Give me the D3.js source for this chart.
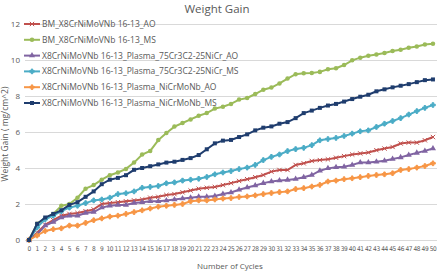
<!DOCTYPE html>
<html>
<head>
<meta charset="utf-8">
<script src="https://cdn.jsdelivr.net/npm/d3@7"></script>
<style>
  body { margin: 0; background: #fff; }
  text { font-family: "Open Sans", sans-serif; fill: #595959; }
</style>
</head>
<body>
<div id="viz"></div>
<script>
var cycles = d3.range(0, 51);
var yTicks = [0, 2, 4, 6, 8, 10, 12];

var names = [
  "BM_X8CrNiMoVNb 16-13_AO",
  "BM_X8CrNiMoVNb 16-13_MS",
  "X8CrNiMoVNb 16-13_Plasma_75Cr3C2-25NiCr_AO",
  "X8CrNiMoVNb 16-13_Plasma_75Cr3C2-25NiCr_MS",
  "X8CrNiMoVNb 16-13_Plasma_NiCrMoNb_AO",
  "X8CrNiMoVNb 16-13_Plasma_NiCrMoNb_MS"
];
var colors = ["#c0504d", "#9bbb59", "#8064a2", "#4bacc6", "#f79646", "#1f3d6e"];

var bmAO = [0, 0.4, 0.85, 1.1, 1.35, 1.45, 1.5, 1.6, 1.7, 2.0, 2.05, 2.1, 2.15, 2.2, 2.25, 2.35, 2.4, 2.5, 2.55, 2.65, 2.75, 2.85, 2.9, 2.95, 3.05,
  3.16, 3.28, 3.38, 3.49, 3.61, 3.8, 3.89, 3.89, 4.17, 4.26, 4.39, 4.44, 4.48, 4.57, 4.66, 4.75, 4.81, 4.86, 4.99, 5.08, 5.17, 5.36, 5.41, 5.41, 5.54, 5.72];
var bmMS = [0, 0.9, 1.2, 1.45, 1.9, 2.0, 2.35, 2.85, 3.05, 3.35, 3.6, 3.75, 3.95, 4.3, 4.75, 4.95, 5.55, 5.95, 6.3, 6.5, 6.7, 6.9, 7.05, 7.3, 7.4,
  7.56, 7.8, 7.89, 8.11, 8.35, 8.47, 8.7, 8.97, 9.21, 9.27, 9.28, 9.34, 9.49, 9.54, 9.72, 9.98, 10.13, 10.24, 10.31, 10.39, 10.5, 10.57, 10.68, 10.75, 10.86, 10.9];
var crAO = [0, 0.3, 0.8, 1.0, 1.25, 1.35, 1.35, 1.5, 1.55, 1.8, 1.9, 1.95, 1.95, 2.05, 2.1, 2.15, 2.15, 2.2, 2.25, 2.3, 2.35, 2.4, 2.4, 2.45, 2.55,
  2.64, 2.79, 2.92, 3.03, 3.16, 3.25, 3.3, 3.34, 3.39, 3.49, 3.61, 3.85, 3.98, 4.04, 4.07, 4.17, 4.31, 4.31, 4.35, 4.4, 4.5, 4.59, 4.72, 4.84, 4.95, 5.08];
var crMS = [0, 0.7, 1.15, 1.35, 1.6, 1.8, 1.9, 2.05, 2.2, 2.25, 2.35, 2.55, 2.6, 2.7, 2.9, 2.95, 3.0, 3.15, 3.2, 3.3, 3.35, 3.4, 3.5, 3.65, 3.75,
  3.83, 3.94, 4.02, 4.17, 4.44, 4.62, 4.75, 4.94, 5.05, 5.12, 5.27, 5.54, 5.61, 5.67, 5.78, 5.91, 6.04, 6.09, 6.28, 6.46, 6.61, 6.77, 6.97, 7.16, 7.34, 7.5];
var niAO = [0, 0.25, 0.5, 0.6, 0.65, 0.8, 0.8, 0.95, 1.1, 1.2, 1.3, 1.35, 1.45, 1.55, 1.65, 1.75, 1.85, 1.9, 1.95, 2.0, 2.15, 2.2, 2.2, 2.25, 2.3,
  2.33, 2.39, 2.42, 2.48, 2.55, 2.61, 2.66, 2.7, 2.83, 2.88, 2.97, 3.06, 3.25, 3.3, 3.38, 3.43, 3.49, 3.56, 3.61, 3.65, 3.71, 3.89, 3.94, 4.02, 4.11, 4.26];
var niMS = [0, 0.9, 1.25, 1.45, 1.65, 1.95, 2.1, 2.4, 2.7, 3.1, 3.35, 3.45, 3.6, 3.9, 4.0, 4.1, 4.2, 4.3, 4.35, 4.45, 4.55, 4.72, 5.04, 5.37, 5.52,
  5.56, 5.72, 5.87, 6.09, 6.24, 6.31, 6.46, 6.55, 6.77, 7.05, 7.19, 7.34, 7.47, 7.56, 7.69, 7.83, 7.96, 8.07, 8.26, 8.37, 8.48, 8.57, 8.66, 8.77, 8.88, 8.92];

var series = [bmAO, bmMS, crAO, crMS, niAO, niMS];
var symbols = [d3.symbolX, d3.symbolCircle, d3.symbolTriangle, d3.symbolCross, d3.symbolCross, d3.symbolSquare];
var symSize = [14, 16, 16, 12, 12, 16];

var W = 438, H = 272;
var margin = { top: 24, right: 1, bottom: 32, left: 25 };

var svg = d3.select('#viz').append('svg')
  .attr('width', W)
  .attr('height', H);

var xScale = d3.scaleBand()
  .domain(cycles)
  .range([margin.left, W - margin.right]);

var yScale = d3.scaleLinear()
  .domain([0, 12])
  .range([H - margin.bottom, margin.top]);

// gridlines
svg.append('g')
  .selectAll('line').data(yTicks)
  .enter().append('line')
    .attr('x1', margin.left)
    .attr('x2', W - margin.right)
    .attr('y1', function(d) { return Math.round(yScale(d)) + 0.5; })
    .attr('y2', function(d) { return Math.round(yScale(d)) + 0.5; })
    .attr('stroke', '#d9d9d9')
    .attr('stroke-width', 1);

// y axis
var yAxis = d3.axisLeft(yScale).tickValues(yTicks).tickSize(0).tickPadding(5);
var yGuide = svg.append('g')
  .attr('transform', 'translate(' + margin.left + ',0)')
  .call(yAxis);
yGuide.select('.domain').remove();
yGuide.selectAll('text').style('font-size', '8px').attr('fill', '#595959');

// x axis
var xAxis = d3.axisBottom(xScale).tickSize(0).tickPadding(6);
var xGuide = svg.append('g')
  .attr('transform', 'translate(0,' + (H - margin.bottom) + ')')
  .call(xAxis);
xGuide.select('.domain').remove();
xGuide.selectAll('text')
  .style('font-family', '"DejaVu Sans Condensed", "Open Sans", sans-serif')
  .style('font-size', '6.5px')
  .style('letter-spacing', '-0.4px')
  .attr('fill', '#595959');

var xPos = function(i) { return xScale(i) + xScale.bandwidth() / 2; };

var line = d3.line()
  .x(function(d, i) { return xPos(i); })
  .y(function(d) { return yScale(d); });

series.forEach(function(s, k) {
  svg.append('path')
    .datum(s)
    .attr('d', line)
    .attr('fill', 'none')
    .attr('stroke', colors[k])
    .attr('stroke-width', 2);

  svg.append('g').selectAll('path').data(s)
    .enter().append('path')
      .attr('d', d3.symbol().type(symbols[k]).size(symSize[k]))
      .attr('transform', function(d, i) {
        return 'translate(' + xPos(i) + ',' + yScale(d) + ')';
      })
      .attr('fill', colors[k])
      .attr('stroke', (k == 0 || k == 3 || k == 4) ? colors[k] : 'none')
      .attr('stroke-width', 1);
});

// legend
var legend = svg.append('g').selectAll('g').data(names)
  .enter().append('g')
    .attr('transform', function(d, i) {
      return 'translate(24,' + (24 + i * 15.8) + ')';
    });
legend.append('line')
  .attr('x1', 0).attr('x2', 16)
  .attr('stroke', function(d, i) { return colors[i]; })
  .attr('stroke-width', 2);
legend.append('path')
  .attr('d', function(d, i) { return d3.symbol().type(symbols[i]).size(symSize[i])(); })
  .attr('transform', 'translate(8,0)')
  .attr('fill', function(d, i) { return colors[i]; })
  .attr('stroke', function(d, i) { return (i == 0 || i == 3 || i == 4) ? colors[i] : 'none'; });
legend.append('text')
  .attr('x', 18)
  .attr('dy', '0.35em')
  .style('font-size', '8.5px')
  .text(function(d) { return d; });

// titles
svg.append('text')
  .attr('x', 217)
  .attr('y', 13)
  .attr('text-anchor', 'middle')
  .style('font-size', '11.5px')
  .text('Weight Gain');

svg.append('text')
  .attr('x', 230)
  .attr('y', 269)
  .attr('text-anchor', 'middle')
  .style('font-size', '8px')
  .text('Number  of Cycles');

svg.append('text')
  .attr('transform', 'translate(8,134) rotate(-90)')
  .attr('text-anchor', 'middle')
  .style('font-size', '8.5px')
  .text('Weight Gain  ( mg/cm^2)');
</script>
</body>
</html>
